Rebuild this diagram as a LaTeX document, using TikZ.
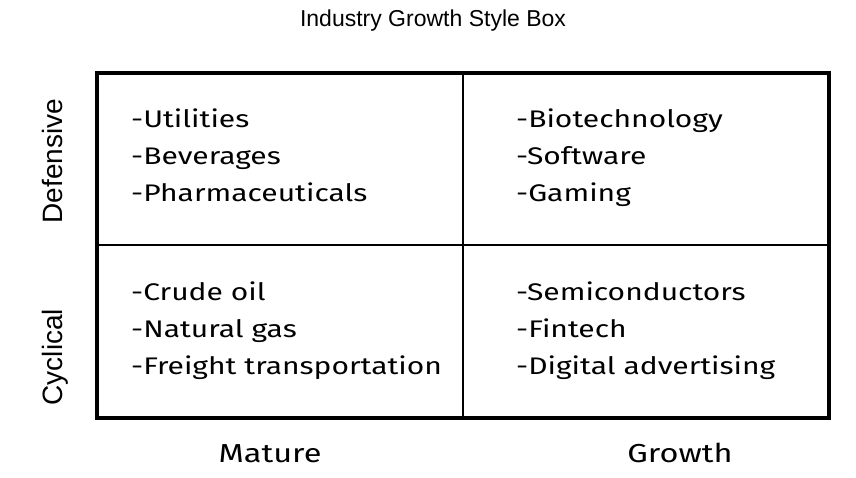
\documentclass[tikz,border=0pt]{standalone}
\usepackage{fontspec}
\setmainfont[FakeStretch=1.25]{Fira Sans}
\newfontfamily\titlefont{Liberation Sans}
\begin{document}
\begin{tikzpicture}[x=1pt,y=-1pt,
  cell/.style={anchor=base west, align=left, font=\fontsize{24}{37}\selectfont, inner sep=0pt},
  axislab/.style={anchor=base, font=\fontsize{26}{30}\selectfont, inner sep=0pt},
  sidelab/.style={anchor=base, font=\titlefont\fontsize{28}{32}\selectfont, inner sep=0pt, rotate=90},
  outer/.style={line width=4pt},
  inner/.style={line width=1.3pt}]
\useasboundingbox (0,0) rectangle (856,478);
\node[anchor=base, font=\titlefont\fontsize{23}{27}\selectfont, inner sep=0pt] (title) at (433,27) {Industry Growth Style Box};
\coordinate (tl) at (97,73);
\coordinate (br) at (829,418);
\coordinate (mt) at (463,73);
\coordinate (mb) at (463,418);
\coordinate (ml) at (97,245);
\coordinate (mr) at (829,245);
\draw[inner] (mt) -- (mb);
\draw[inner] (ml) -- (mr);
\draw[outer] (tl) rectangle (br);
\node[cell] (dm) at (131,202) {-Utilities\\-Beverages\\-Pharmaceuticals};
\node[cell] (dg) at (516,202) {-Biotechnology\\-Software\\-Gaming};
\node[cell] (cm) at (131,374) {-Crude oil\\-Natural gas\\-Freight transportation};
\node[cell] (cg) at (516,374) {-Semiconductors\\-Fintech\\-Digital advertising};
\node[axislab] (mat) at (270,462) {Mature};
\node[axislab] (gro) at (680,462) {Growth};
\node[sidelab] (def) at (62,161) {Defensive};
\node[sidelab] (cyc) at (62,357) {Cyclical};
\end{tikzpicture}
\end{document}
